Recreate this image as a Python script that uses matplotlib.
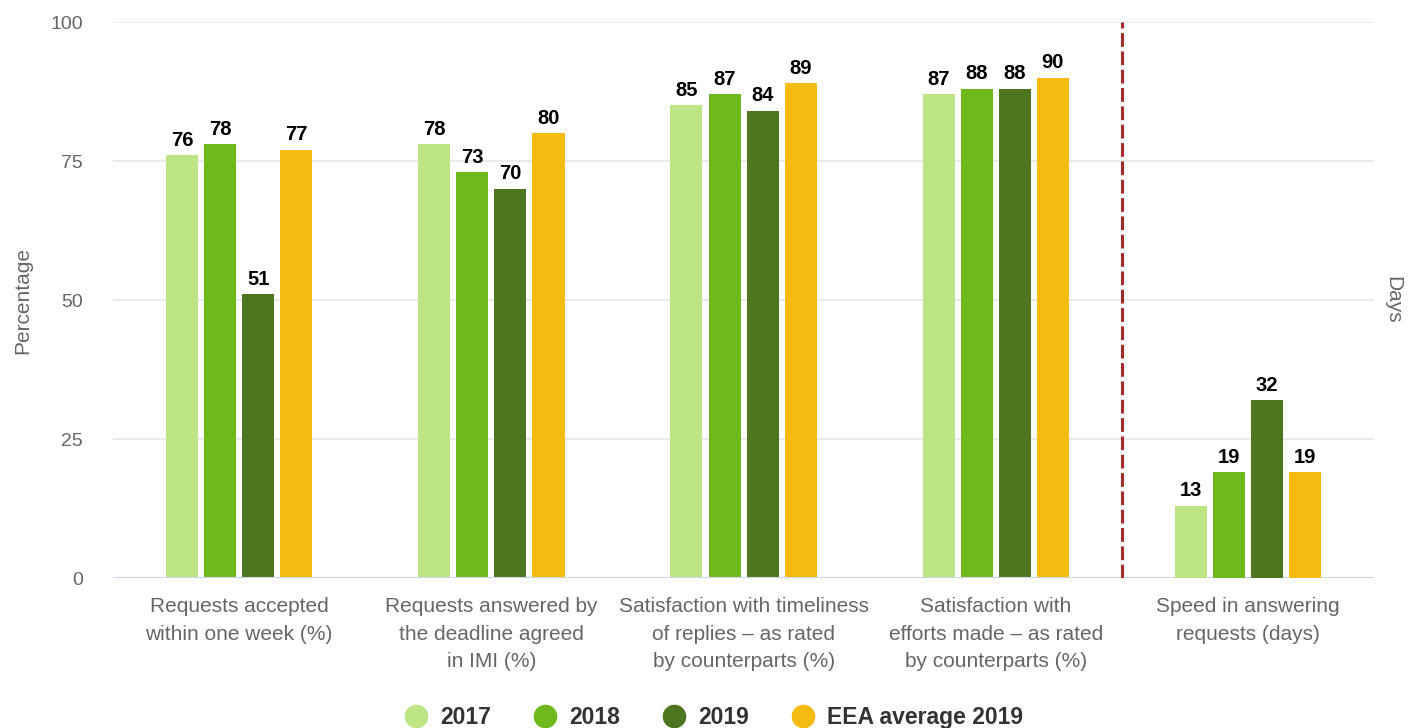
import numpy as np
import matplotlib.pyplot as plt
from matplotlib.lines import Line2D

plt.rcParams['font.family'] = ['Liberation Sans', 'DejaVu Sans']

# Data
categories = [
    'Requests accepted\nwithin one week (%)',
    'Requests answered by\nthe deadline agreed\nin IMI (%)',
    'Satisfaction with timeliness\nof replies \u2013 as rated\nby counterparts (%)',
    'Satisfaction with\nefforts made \u2013 as rated\nby counterparts (%)',
    'Speed in answering\nrequests (days)',
]
series_names = ['2017', '2018', '2019', 'EEA average 2019']
v2017 = [76, 78, 85, 87, 13]
v2018 = [78, 73, 87, 88, 19]
v2019 = [51, 70, 84, 88, 32]
veea = [77, 80, 89, 90, 19]
colors = ['#bde585', '#6fb91c', '#4e7620', '#f5bb10']

series = [v2017, v2018, v2019, veea]
n_pct = 4  # first four categories are percentages, last one is days

fig = plt.figure(figsize=(14.08, 7.28), dpi=100)
ax = fig.add_axes([0.0803, 0.206, 0.8956, 0.7637])
ax2 = ax.twinx()

x = np.arange(len(categories))
width = 0.127
pitch = 0.151
offsets = (np.arange(4) - 1.5) * pitch

for i, (vals, c) in enumerate(zip(series, colors)):
    for j, v in enumerate(vals):
        target = ax if j < n_pct else ax2
        target.bar(x[j] + offsets[i], v, width=width, color=c, zorder=3)
        target.annotate(str(v), (x[j] + offsets[i], v), xytext=(0, 4),
                        textcoords='offset points', ha='center', va='bottom',
                        fontsize=14.5, fontweight='bold', color='black', zorder=4)

for a in (ax, ax2):
    a.set_ylim(0, 100)
    a.set_xlim(-0.5, len(categories) - 0.5)
    for s in a.spines.values():
        s.set_visible(False)

ax.set_yticks([0, 25, 50, 75, 100])
ax.tick_params(axis='y', length=0, labelsize=14, labelcolor='#666666', pad=21.5)
ax.yaxis.grid(True, color='#e6e6e6', linewidth=1.2, zorder=0)
ax.set_axisbelow(True)
ax.axhline(0, color='#ccd6eb', linewidth=1.5, zorder=5)

ax.set_xticks(x)
ax.set_xticklabels(categories, fontsize=15, color='#666666', linespacing=1.55)
ax.tick_params(axis='x', length=0, pad=14)

ax.set_ylabel('Percentage', fontsize=15, color='#666666', labelpad=13)
ax2.set_yticks([])
ax2.set_ylabel('Days', fontsize=15, color='#666666', rotation=270, labelpad=20)

# divider between percentage metrics and days metric
ax.axvline(n_pct - 0.5, color='#a52a2a', linestyle=(0, (4.5, 1.5)), linewidth=2.2, zorder=6)

handles = [Line2D([], [], marker='o', linestyle='', markersize=16, color=c) for c in colors]
leg = fig.legend(handles, series_names, loc='center', bbox_to_anchor=(0.505, 0.015),
                 ncol=4, frameon=False, handlelength=1.5, handletextpad=0.3,
                 columnspacing=1.6, prop={'size': 16.5, 'weight': 'bold'})
for t in leg.get_texts():
    t.set_color('#333333')

fig.savefig('out.png', dpi=100)
